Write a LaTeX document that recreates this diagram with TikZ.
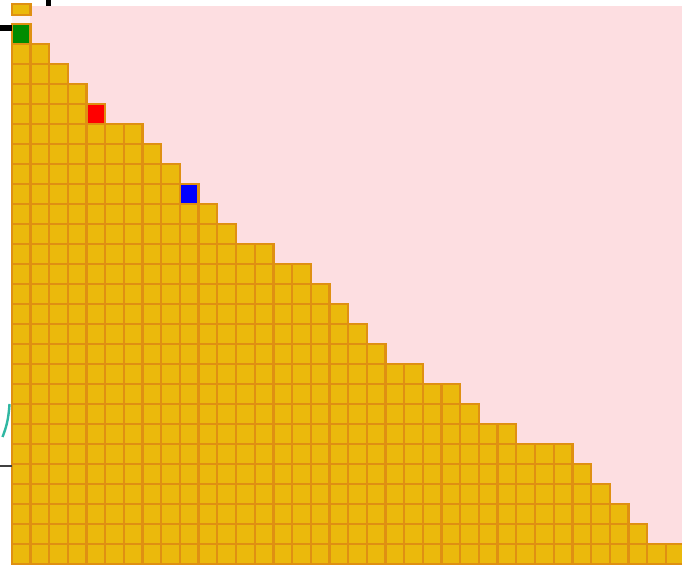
\documentclass[tikz,border=0pt]{standalone}
\definecolor{cellgold}{HTML}{EBB90C}
\definecolor{celledge}{HTML}{DF9012}
\definecolor{boardpink}{HTML}{FDDEE1}
\definecolor{markgreen}{HTML}{008C00}
\definecolor{markred}{HTML}{FF0000}
\definecolor{markblue}{HTML}{0000FF}
\definecolor{curveteal}{HTML}{2FB7A2}
\tikzset{
    gridcell/.style={
        fill=cellgold,
        draw=celledge,
        line width=1.15pt
    },
    markedcell/.style={
        gridcell,
        fill=#1
    },
    axistick/.style={
        draw=black,
        line width=2.9pt
    }
}
% cell (c,r): left edge 11.7 + 18.69c, top edge 24.3 + 20r (picture units)
\newcommand{\cellat}[3][gridcell]{%
    \draw[#1] ({11.7+18.69*#2},{24.3+20*#3}) rectangle ++(18.69,20);}

\begin{document}
\begin{tikzpicture}[x=0.5pt,y=-0.5pt]
    \useasboundingbox (0,0) rectangle (682,565);
    \clip (0,0) rectangle (682,565);

    % board
    \fill[boardpink] (11.7,5.7) rectangle (682,565);
    \fill[boardpink!40] (11.7,15) rectangle (30.4,24.3);

    % staircase of cells: column / first row
    \foreach \c/\t in {0/0,1/1,2/2,3/3,4/4,5/5,6/5,7/6,8/7,9/8,10/9,11/10,
                       12/11,13/11,14/12,15/12,16/13,17/14,18/15,19/16,
                       20/17,21/17,22/18,23/18,24/19,25/20,26/20,27/21,
                       28/21,29/21,30/22,31/23,32/24,33/25,34/26,35/26}{
        \foreach \r in {\t,...,26}{
            \cellat{\c}{\r}
        }
    }

    % marked cells
    \cellat[markedcell=markgreen]{0}{0}
    \cellat[markedcell=markred]{4}{4}
    \cellat[markedcell=markblue]{9}{8}

    % cell cut off at the top
    \draw[gridcell] (11.7,4) rectangle (30.4,15.3);

    % pieces of the picture beside the board
    \draw[axistick] (48.5,0) -- (48.5,5.7);
    \draw[axistick] (0,28.2) -- (11.7,28.2);
    \draw[draw=black!75,line width=0.7pt] (0,466) -- (11.7,466);
    \draw[curveteal,line width=1.2pt]
        (9.5,404) .. controls (8.5,420) and (6,428) .. (2.5,437);
\end{tikzpicture}
\end{document}
